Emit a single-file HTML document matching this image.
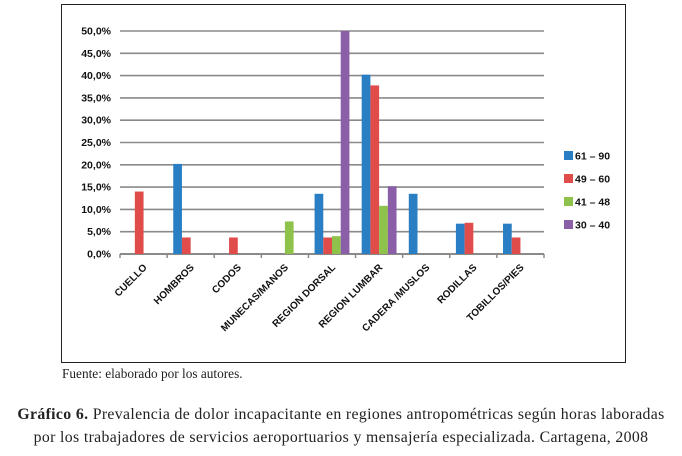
<!DOCTYPE html>
<html><head><meta charset="utf-8">
<style>
body{margin:0;background:#fff;width:682px;height:456px;overflow:hidden;position:relative;font-family:"Liberation Sans",sans-serif}
.t{position:absolute;font-family:"Liberation Serif",serif;color:#222}
</style></head><body>
<svg width="682" height="456" style="position:absolute;left:0;top:0">
<rect x="61.5" y="4.5" width="564" height="358" fill="none" stroke="#222" stroke-width="1"/>
<g id="grid"></g><g id="bars"></g><g id="xl"></g><g id="leg"></g>
</svg>
<div class="t" style="left:62px;top:366px;font-size:13.3px">Fuente: elaborado por los autores.</div>
<div class="t" style="left:-20px;width:722px;top:403px;font-size:15.8px;letter-spacing:0.35px;line-height:23px;text-align:center;white-space:nowrap"><b>Gráfico 6.</b> Prevalencia de dolor incapacitante en regiones antropométricas según horas laboradas<br>por los trabajadores de servicios aeroportuarios y mensajería especializada. Cartagena, 2008</div>
<script>
const categories=["CUELLO","HOMBROS","CODOS","MUNECAS/MANOS","REGION DORSAL","REGION LUMBAR","CADERA /MUSLOS","RODILLAS","TOBILLOS/PIES"];
const seriesNames=["61 – 90","49 – 60","41 – 48","30 – 40"];
const s6190=[0,20.2,0,0,13.5,40.2,13.5,6.8,6.8];
const s4960=[14,3.7,3.7,0,3.7,37.8,0,7,3.7];
const s4148=[0,0,0,7.3,4,10.8,0,0,0];
const s3040=[0,0,0,0,50,15.2,0,0,0];
const yTicks=[0,5,10,15,20,25,30,35,40,45,50];
const colors=["#2a7fc4","#e04c4a","#8fc24a","#8a5fa8"];
const series=[s6190,s4960,s4148,s3040];
const NS="http://www.w3.org/2000/svg";
const X0=120,X1=544,Y0=254,Y1=31,YMAX=50;
const cw=(X1-X0)/categories.length;
const y=v=>Y0-(v/YMAX)*(Y0-Y1);
function mk(tag,attrs,parent){const e=document.createElementNS(NS,tag);for(const k in attrs)e.setAttribute(k,attrs[k]);parent.appendChild(e);return e;}
const g=document.getElementById('grid');
yTicks.forEach(t=>{
 const l=mk('line',{x1:X0,x2:X1,y1:y(t),y2:y(t),stroke:'#8a8a8a','stroke-width':t===0?2:1.6},g);
 
 
 const tx=mk('text',{x:111,y:y(t)+3.5,'text-anchor':'end','font-size':'10.5','font-weight':'bold',fill:'#111'},g);
 tx.textContent=t.toFixed(1).replace('.',',')+'%';
 
 
});
for(let i=0;i<=categories.length;i++){
 const tk=mk('line',{x1:X0+i*cw,x2:X0+i*cw,y1:Y0,y2:Y0+4,stroke:'#8a8a8a','stroke-width':1.5},g);
 
 
}
const b=document.getElementById('bars');
const bw=cw*0.185,off=cw*0.13;
series.forEach((s,si)=>s.forEach((v,ci)=>{
 if(v<=0)return;
 const r=mk('rect',{x:X0+ci*cw+off+si*bw,y:y(v),width:bw,height:Y0-y(v),fill:colors[si]},b);
 
 
}));
const xl=document.getElementById('xl');
categories.forEach((c,ci)=>{
 const cx=X0+(ci+0.5)*cw+4,cy=Y0+14;
 const t=mk('text',{x:cx,y:cy,'text-anchor':'end','font-size':'10','font-weight':'bold',fill:'#111',transform:`rotate(-45 ${cx} ${cy})`},xl);
 t.textContent=c;
 
 
});
const lg=document.getElementById('leg');
seriesNames.forEach((n,i)=>{
 const yy=151+i*23;
 const r=mk('rect',{x:564,y:yy,width:9,height:9,fill:colors[i]},lg);
 
 
 const t=mk('text',{x:575,y:yy+8.5,'font-size':'10.5','font-weight':'bold',fill:'#111'},lg);
 t.textContent=n;
 
 
});
</script>
</body></html>
